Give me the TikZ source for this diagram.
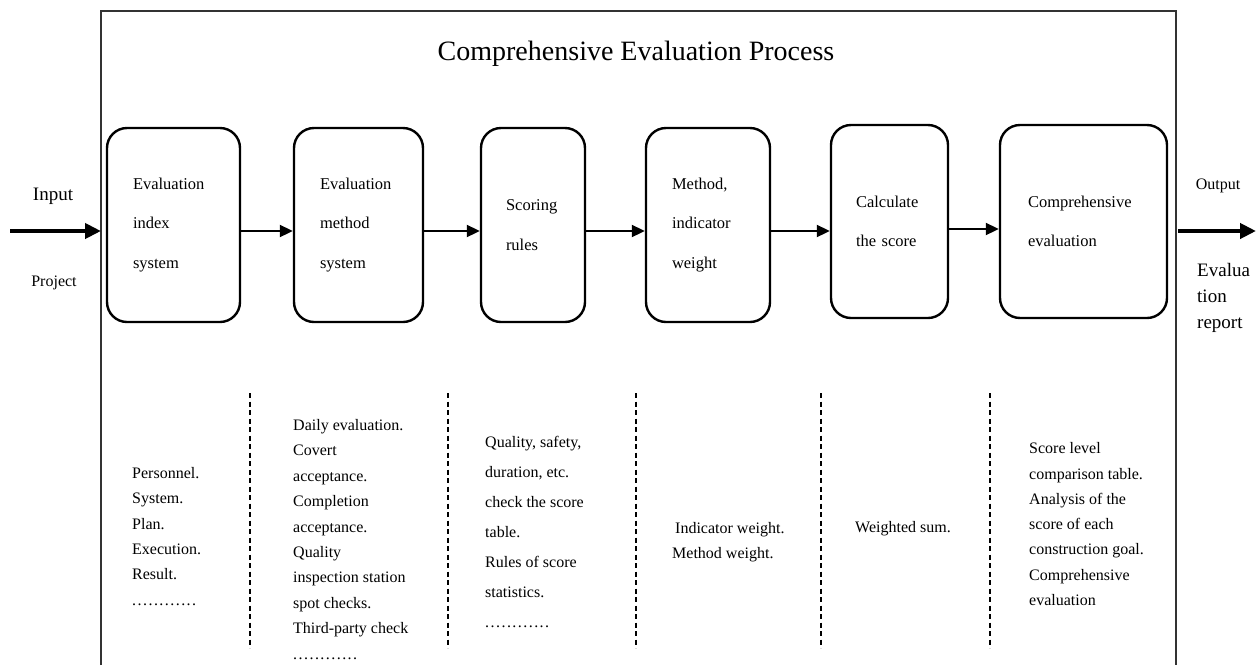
\documentclass[tikz,border=0pt]{standalone}
\usepackage{fontspec}
\setmainfont{Liberation Serif}
\usetikzlibrary{arrows.meta}
\newcommand\mydotrow{\makebox[64pt][s]{.\hfill.\hfill.\hfill.\hfill.\hfill.\hfill.\hfill.\hfill.\hfill.\hfill.\hfill.}}
\begin{document}
\begin{tikzpicture}[x=1pt,y=-1pt,
  procbox/.style={draw, line width=2.4pt, rounded corners=20pt, align=left,
    font=\fontsize{16.5}{39.5}\selectfont, inner sep=0pt},
  flowarr/.style={line width=2pt, -{Triangle[length=13pt,width=12pt]}},
  ioarr/.style={line width=4pt, -{Triangle[length=16pt,width=15pt]}},
  desc/.style={anchor=base west, align=left, inner sep=0pt},
  sep/.style={line width=2pt, dash pattern=on 5pt off 3.5pt},
  frame/.style={line width=1.3pt, draw=black!80}
]
\useasboundingbox (0,0) rectangle (1256,665);
% outer frame
\coordinate (fbl) at (101,665);
\coordinate (ftl) at (101,11);
\coordinate (ftr) at (1176,11);
\coordinate (fbr) at (1176,665);
\draw[frame] (fbl) -- (ftl) -- (ftr) -- (fbr);

\node[font=\fontsize{28}{32}\selectfont] (title) at (636,54) {Comprehensive Evaluation Process};

% process boxes
\node[procbox, minimum width=133pt, minimum height=194pt, text width=81pt] (b1) at (173.5,225) {Evaluation\\index\\system};
\node[procbox, minimum width=129pt, minimum height=194pt, text width=77pt] (b2) at (358.5,225) {Evaluation\\method\\system};
\node[procbox, minimum width=104pt, minimum height=194pt, text width=54pt] (b3) at (533,225) {Scoring\\rules};
\node[procbox, minimum width=124pt, minimum height=194pt, text width=72pt] (b4) at (708,225) {Method,\\indicator\\weight};
\node[procbox, minimum width=117pt, minimum height=193pt, text width=67pt] (b5) at (889.5,221.5) {Calculate\\the score};
\node[procbox, minimum width=167pt, minimum height=193pt, text width=111pt] (b6) at (1083.5,221.5) {Comprehensive\\evaluation};

% connectors
\draw[flowarr] (b1.east |- 0,231) -- (b2.west |- 0,231);
\draw[flowarr] (b2.east |- 0,231) -- (b3.west |- 0,231);
\draw[flowarr] (b3.east |- 0,231) -- (b4.west |- 0,231);
\draw[flowarr] (b4.east |- 0,231) -- (b5.west |- 0,231);
\draw[flowarr] (b5.east |- 0,229) -- (b6.west |- 0,229);

% input / output
\coordinate (inS) at (10,231);
\coordinate (inE) at (101,231);
\draw[ioarr] (inS) -- (inE);
\coordinate (outS) at (1178,231);
\coordinate (outE) at (1256,231);
\draw[ioarr] (outS) -- (outE);
\node[font=\fontsize{19}{24}\selectfont] (inlab) at (53,196) {Input};
\node[font=\fontsize{16}{20}\selectfont] (projlab) at (54,283) {Project};
\node[font=\fontsize{16}{20}\selectfont] (outlab) at (1218,186) {Output};
\node[desc, font=\fontsize{19}{26}\selectfont] (replab) at (1197,328) {Evalua\\tion\\report};

% separators
\foreach \x/\n in {250/s1,448/s2,636/s3,821/s4,990/s5}{
  \coordinate (\n t) at (\x,393);
  \coordinate (\n b) at (\x,648);
  \draw[sep] (\n t) -- (\n b);
}

% descriptions (anchor = baseline of last line)
\node[desc, font=\fontsize{16}{25.3}\selectfont] (d1) at (132,605) {Personnel.\\System.\\Plan.\\Execution.\\Result.\\\mydotrow};
\node[desc, font=\fontsize{16}{25.4}\selectfont] (d2) at (293,659) {Daily evaluation.\\Covert\\acceptance.\\Completion\\acceptance.\\Quality\\inspection station\\spot checks.\\Third-party check\\\mydotrow};
\node[desc, font=\fontsize{16}{30}\selectfont] (d3) at (485,627) {Quality, safety,\\duration, etc.\\check the score\\table.\\Rules of score\\statistics.\\\mydotrow};
\node[desc, font=\fontsize{16}{25}\selectfont] (d4) at (672,558.5) {\hspace{3pt}Indicator weight.\\Method weight.};
\node[desc, font=\fontsize{16}{25}\selectfont] (d5) at (855,532.5) {Weighted sum.};
\node[desc, font=\fontsize{16}{25.3}\selectfont] (d6) at (1029,605.5) {Score level\\comparison table.\\Analysis of the\\score of each\\construction goal.\\Comprehensive\\evaluation};
\end{tikzpicture}
\end{document}
